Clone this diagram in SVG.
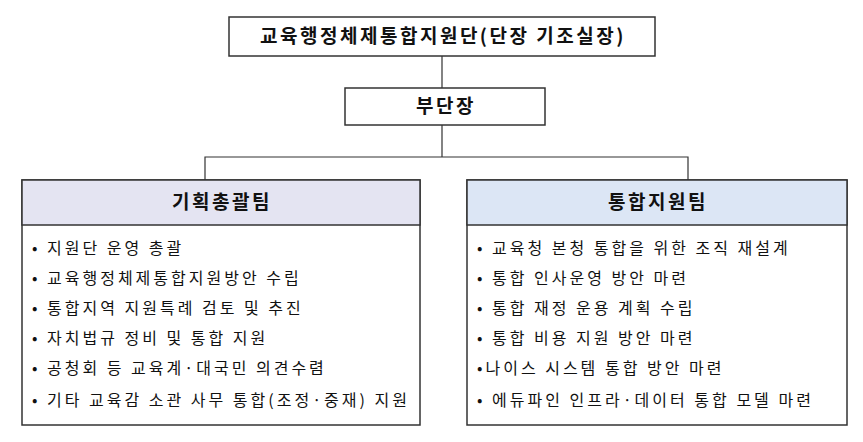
<svg xmlns="http://www.w3.org/2000/svg" width="863" height="442" viewBox="0 0 863 442">
<style>
.b{fill:#fff;stroke:#333;stroke-width:1.5}
.h{stroke:#333;stroke-width:1.5}
.t{font-family:"Noto Sans CJK KR","Noto Sans",sans-serif;fill:#111}
.tt{font-size:19px;font-weight:bold;text-anchor:middle;letter-spacing:2.5px}
.li{font-size:16px;letter-spacing:3px}
.c{stroke:#333;stroke-width:1.2;fill:none}
</style>
<rect width="863" height="442" fill="#fff"/>
<g id="connectors">
<path class="c" d="M442 56V88M442 125V157M205 180V157H688V180"/>
</g>
<g id="top"><rect class="b" x="229" y="17" width="426" height="39"/><text class="t tt" x="443" y="43">교육행정체제통합지원단(단장 기조실장)</text></g>
<g id="vice"><rect class="b" x="345" y="88" width="200" height="37"/><text class="t tt" x="446" y="113">부단장</text></g>
<g id="planning">
<rect class="b" x="22" y="180" width="398" height="245"/>
<rect class="h" x="22" y="180" width="398" height="45" fill="#E4E4F2"/>
<text class="t tt" x="222" y="209">기획총괄팀</text>
<g class="t li">
<text x="32" y="254">• 지원단 운영 총괄</text>
<text x="32" y="284">• 교육행정체제통합지원방안 수립</text>
<text x="32" y="314">• 통합지역 지원특례 검토 및 추진</text>
<text x="32" y="344">• 자치법규 정비 및 통합 지원</text>
<text x="32" y="374">• 공청회 등 교육계·대국민 의견수렴</text>
<text x="32" y="406">• 기타 교육감 소관 사무 통합(조정·중재) 지원</text>
</g>
</g>
<g id="support">
<rect class="b" x="467" y="180" width="380" height="245"/>
<rect class="h" x="467" y="180" width="380" height="45" fill="#DCE6F5"/>
<text class="t tt" x="658" y="209">통합지원팀</text>
<g class="t li">
<text x="477" y="254">• 교육청 본청 통합을 위한 조직 재설계</text>
<text x="477" y="284">• 통합 인사운영 방안 마련</text>
<text x="477" y="314">• 통합 재정 운용 계획 수립</text>
<text x="477" y="344">• 통합 비용 지원 방안 마련</text>
<text x="477" y="374">•나이스 시스템 통합 방안 마련</text>
<text x="477" y="406">• 에듀파인 인프라·데이터 통합 모델 마련</text>
</g>
</g>
</svg>
